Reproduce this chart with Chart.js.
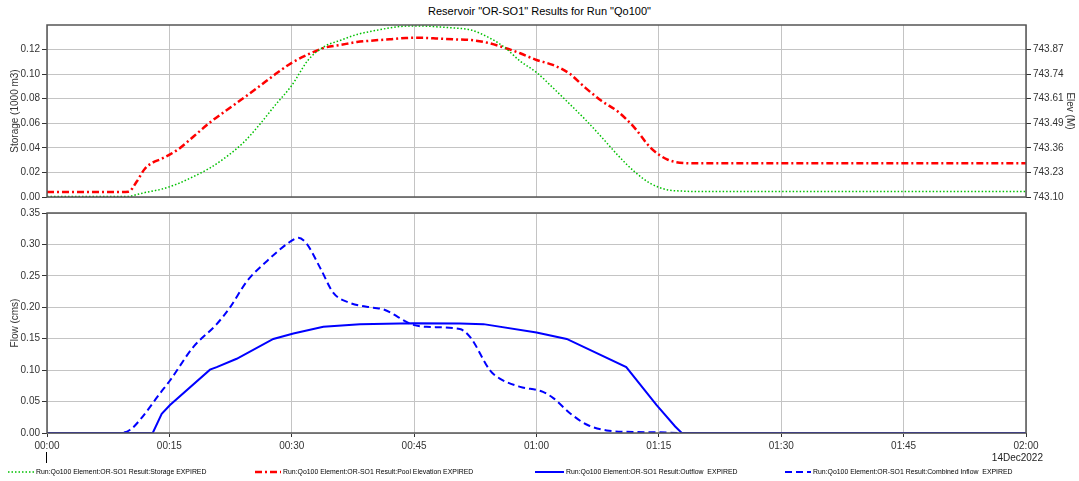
<!DOCTYPE html>
<html>
<head>
<meta charset="utf-8">
<script src="https://cdn.jsdelivr.net/npm/chart.js@4.4.1/dist/chart.umd.min.js"></script>
<style>
    body { margin: 0; width: 1079px; height: 481px; background: #fff; position: relative; overflow: hidden;
           font-family: "Liberation Sans", Arial, sans-serif; }
    #titulo { position: absolute; top: 5px; left: 0; width: 1079px; text-align: center; font-size: 11px; color: #000; }
    #graficaArriba { position: absolute; left: 0; top: 0; }
    #graficaAbajo { position: absolute; left: 0; top: 205px; }
    .ley { position: absolute; top: 468px; font-size: 6.9px; color: #000; white-space: pre; display: flex; align-items: center; }
    .ley svg { margin-right: 2px; }
    #fecha { position: absolute; top: 452px; left: 990px; width: 53px; text-align: right; font-size: 10px; color: #222; }
    #marca { position: absolute; left: 46px; top: 452px; width: 1px; height: 11px; background: #000; }
</style>
</head>
<body>
<div id="titulo">Reservoir "OR-SO1" Results for Run "Qo100"</div>
<canvas id="graficaArriba" width="1079" height="205"></canvas>
<canvas id="graficaAbajo" width="1079" height="276"></canvas>
<div id="fecha">14Dec2022</div>
<div id="marca"></div>

<div class="ley" style="left:8px"><svg width="26" height="6"><line x1="0" y1="3" x2="26" y2="3" stroke="#00c000" stroke-width="1.5" stroke-dasharray="1.5 2"/></svg><span>Run:Qo100 Element:OR-SO1 Result:Storage EXPIRED</span></div>
<div class="ley" style="left:255px"><svg width="26" height="6"><line x1="0" y1="3" x2="26" y2="3" stroke="#ff0000" stroke-width="2.5" stroke-dasharray="7 3 2 3"/></svg><span>Run:Qo100 Element:OR-SO1 Result:Pool Elevation EXPIRED</span></div>
<div class="ley" style="left:535px"><svg width="29" height="6"><line x1="0" y1="3" x2="29" y2="3" stroke="#0000ff" stroke-width="2"/></svg><span>Run:Qo100 Element:OR-SO1 Result:Outflow  EXPIRED</span></div>
<div class="ley" style="left:785px"><svg width="26" height="6"><line x1="0" y1="3" x2="26" y2="3" stroke="#0000ff" stroke-width="2" stroke-dasharray="7 4"/></svg><span>Run:Qo100 Element:OR-SO1 Result:Combined Inflow  EXPIRED</span></div>

<script>
// minutos desde 00:00
const minutosArriba = [0, 8, 10, 11, 12, 13, 14, 16, 18, 20, 22, 24, 26, 28, 30, 32, 34, 36, 38, 40,
    42, 44, 46, 48, 50, 52, 54, 56, 58, 60, 62, 64, 66, 68, 70, 72, 74, 76, 78, 80, 120];
const almacenamiento = [0.0004, 0.0004, 0.0004, 0.0020, 0.0036, 0.0049, 0.0063, 0.0107, 0.0168, 0.0237,
    0.0328, 0.0438, 0.0585, 0.0750, 0.0908, 0.1114, 0.1225, 0.1276, 0.1323, 0.1352,
    0.1376, 0.1391, 0.1392, 0.1384, 0.1375, 0.1359, 0.1303, 0.1223, 0.1106, 0.1014,
    0.0890, 0.0761, 0.0629, 0.0486, 0.0338, 0.0207, 0.0109, 0.0059, 0.0048, 0.0044, 0.0044];
const elevacion = [743.126, 743.126, 743.128, 743.181, 743.248, 743.281, 743.299, 743.347, 743.418, 743.491,
    743.554, 743.615, 743.678, 743.743, 743.802, 743.846, 743.881, 743.896, 743.911, 743.919,
    743.925, 743.932, 743.933, 743.929, 743.925, 743.921, 743.907, 743.882, 743.852, 743.817,
    743.791, 743.747, 743.671, 743.602, 743.546, 743.463, 743.357, 743.297, 743.278, 743.276, 743.276];

const minutosSalida = [0, 12.96, 14.06, 15.08, 19.98, 20.8, 23.25, 27.74, 30.2, 33.87, 38.37, 44.9,
    50.6, 53.5, 60.0, 63.7, 71.0, 74.7, 77.0, 77.8, 120];
const caudalSalida = [0, 0, 0.0304, 0.0446, 0.1008, 0.1049, 0.1181, 0.1496, 0.1584, 0.1689, 0.1732, 0.1747,
    0.1741, 0.1732, 0.1600, 0.1496, 0.1048, 0.0446, 0.0104, 0, 0];

const minutosEntrada = [0, 8.95, 10.2, 11.4, 13.85, 15.1, 17.9, 20.8, 22.4, 24.5, 26.9, 29.8, 30.8, 31.8,
    33.5, 35.1, 37.1, 40.0, 41.2, 44.9, 46.5, 50.6, 51.9, 54.3, 55.5, 58.0, 60.8, 62.1, 64.1,
    66.2, 68.6, 71.9, 75.1, 78, 120];
const caudalEntrada = [0, 0, 0.0052, 0.0209, 0.0630, 0.0839, 0.1363, 0.1732, 0.1993, 0.2413, 0.2728, 0.3043,
    0.3106, 0.3016, 0.2623, 0.2229, 0.2072, 0.1993, 0.1968, 0.1720, 0.1689, 0.1653, 0.1521, 0.0997,
    0.0866, 0.0734, 0.0655, 0.0551, 0.0315, 0.0131, 0.0041, 0.0016, 0.0010, 0, 0];

const ticksTiempo = [0, 15, 30, 45, 60, 75, 90, 105, 120];
const ticksAlmacen = [0, 0.02, 0.04, 0.06, 0.08, 0.10, 0.12];
const ticksElev = [743.1, 743.2286, 743.3571, 743.4857, 743.6143, 743.7429, 743.8714];
const ticksCaudal = [0, 0.05, 0.10, 0.15, 0.20, 0.25, 0.30, 0.35];

const fuente = { family: '"Liberation Sans", Arial, sans-serif', size: 10 };
const gris = '#c4c4c4';

const puntos = (xs, ys) => xs.map((x, i) => ({ x: x, y: ys[i] }));
const horaMin = v => String(Math.floor(v / 60)).padStart(2, '0') + ':' + String(v % 60).padStart(2, '0');
const fijarTicks = lista => scale => { scale.ticks = lista.map(v => ({ value: v })); };

const marco = {
    id: 'marco',
    afterDraw(chart) {
        const a = chart.chartArea, ctx = chart.ctx;
        ctx.save();
        ctx.strokeStyle = '#555';
        ctx.lineWidth = 1.5;
        ctx.strokeRect(a.left, a.top, a.right - a.left, a.bottom - a.top);
        ctx.restore();
    }
};

new Chart(document.getElementById('graficaArriba'), {
    type: 'line',
    data: {
        datasets: [{
            data: puntos(minutosArriba, almacenamiento),
            yAxisID: 'y',
            borderColor: '#00c000',
            borderWidth: 1.5,
            borderDash: [1.5, 2],
            pointRadius: 0,
            cubicInterpolationMode: 'monotone'
        }, {
            data: puntos(minutosArriba, elevacion),
            yAxisID: 'y1',
            borderColor: '#ff0000',
            borderWidth: 2.5,
            borderDash: [7, 3, 2, 3],
            pointRadius: 0,
            cubicInterpolationMode: 'monotone'
        }]
    },
    options: {
        responsive: false,
        animation: false,
        layout: { padding: { top: 25, bottom: 5, left: 0, right: 0 } },
        plugins: { legend: { display: false }, tooltip: { enabled: false } },
        scales: {
            x: {
                type: 'linear', min: 0, max: 120,
                afterBuildTicks: fijarTicks(ticksTiempo),
                ticks: { display: false },
                grid: { color: gris, drawTicks: false },
                border: { display: false },
                afterFit: s => { s.height = 0; }
            },
            y: {
                position: 'left', min: 0, max: 0.14,
                afterBuildTicks: fijarTicks(ticksAlmacen),
                ticks: { font: fuente, color: '#333', padding: 2, callback: v => v.toFixed(2) },
                grid: { color: gris, tickColor: '#333', tickLength: 5 },
                border: { display: false },
                title: { display: true, text: 'Storage (1000 m3)', font: fuente, color: '#333', padding: { top: 9, bottom: 0 } },
                afterFit: s => { s.width = 47; }
            },
            y1: {
                position: 'right', min: 743.1, max: 744.0,
                afterBuildTicks: fijarTicks(ticksElev),
                ticks: { font: fuente, color: '#333', padding: 2, callback: v => v.toFixed(2) },
                grid: { drawOnChartArea: false, tickColor: '#333', tickLength: 5 },
                border: { display: false },
                title: { display: true, text: 'Elev (M)', font: fuente, color: '#333', padding: { top: 3, bottom: 0 } },
                afterFit: s => { s.width = 53; }
            }
        }
    },
    plugins: [marco]
});

new Chart(document.getElementById('graficaAbajo'), {
    type: 'line',
    data: {
        datasets: [{
            data: puntos(minutosSalida, caudalSalida),
            borderColor: '#0000ff',
            borderWidth: 2,
            pointRadius: 0,
            tension: 0
        }, {
            data: puntos(minutosEntrada, caudalEntrada),
            borderColor: '#0000ff',
            borderWidth: 2,
            borderDash: [7, 4],
            pointRadius: 0,
            cubicInterpolationMode: 'monotone'
        }]
    },
    options: {
        responsive: false,
        animation: false,
        layout: { padding: { top: 6, bottom: 28, left: 0, right: 53 } },
        plugins: { legend: { display: false }, tooltip: { enabled: false } },
        scales: {
            x: {
                type: 'linear', min: 0, max: 120,
                afterBuildTicks: fijarTicks(ticksTiempo),
                ticks: { font: fuente, color: '#333', padding: 3, maxRotation: 0, callback: horaMin },
                grid: { color: gris, tickColor: '#333', tickLength: 4 },
                border: { display: false },
                afterFit: s => { s.height = 20; }
            },
            y: {
                min: 0, max: 0.35,
                afterBuildTicks: fijarTicks(ticksCaudal),
                ticks: { font: fuente, color: '#333', padding: 2, callback: v => v.toFixed(2) },
                grid: { color: gris, tickColor: '#333', tickLength: 5 },
                border: { display: false },
                title: { display: true, text: 'Flow (cms)', font: fuente, color: '#333', padding: { top: 9, bottom: 0 } },
                afterFit: s => { s.width = 47; }
            }
        }
    },
    plugins: [marco]
});
</script>
</body>
</html>
